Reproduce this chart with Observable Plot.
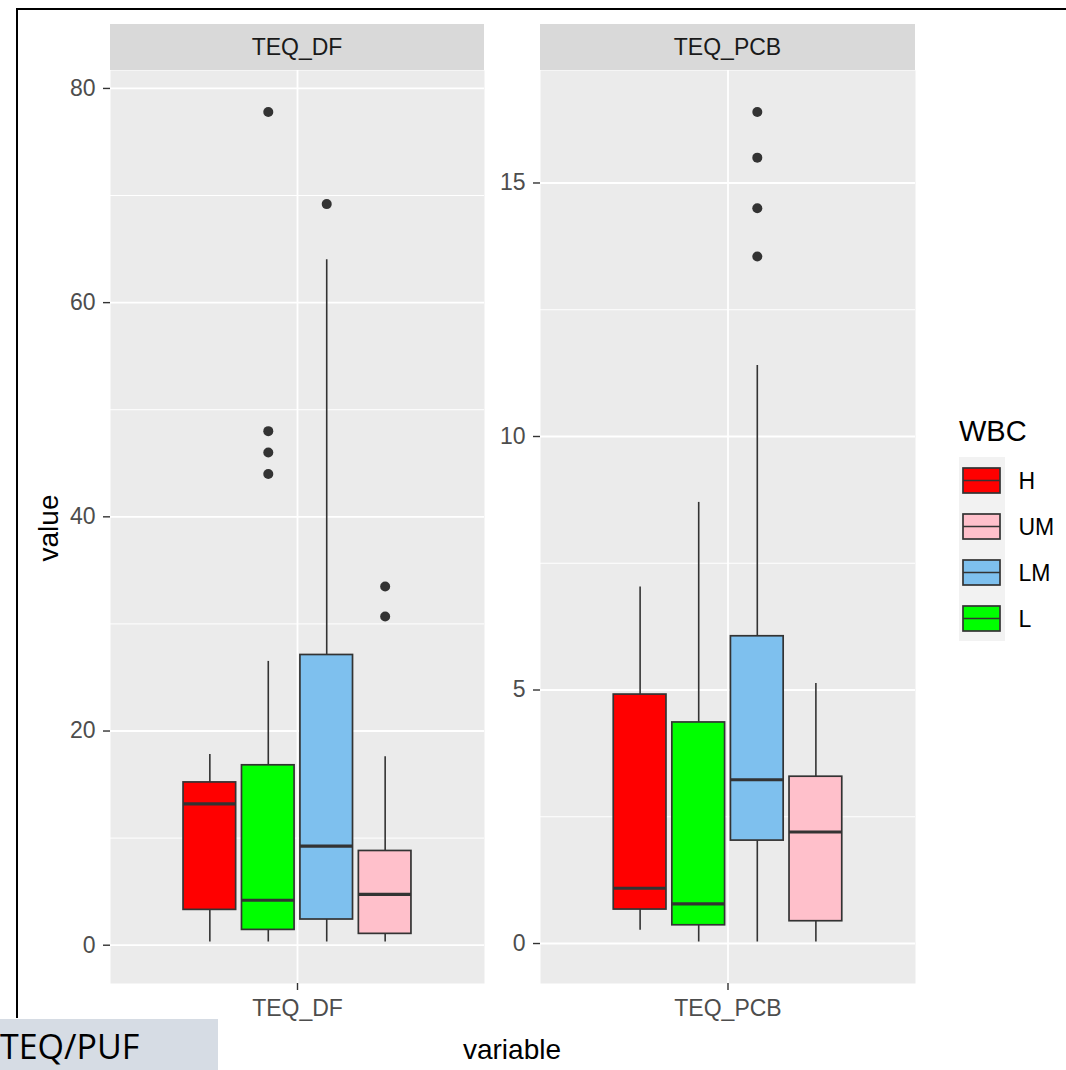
<!DOCTYPE html>
<html>
<head>
<meta charset="utf-8">
<script src="https://cdn.jsdelivr.net/npm/d3@7"></script>
<script src="https://cdn.jsdelivr.net/npm/@observablehq/plot@0.6"></script>
<style>
  html, body { margin: 0; padding: 0; background: #fff; }
  #root { position: relative; width: 1066px; height: 1070px; overflow: hidden; font-family: "Liberation Sans", Arial, sans-serif; }
  .abs { position: absolute; }
  .strip { background: #D9D9D9; color: #1A1A1A; font-size: 23px; text-align: center; line-height: 46px; }
</style>
</head>
<body>
<div id="root"></div>
<script>
// ---- data ----
const groups = ["H", "L", "LM", "UM"];            // plotting order inside each facet
const legendOrder = ["H", "UM", "LM", "L"];       // legend order
const groupColors = ["#FF0000", "#00FF00", "#7EC0EE", "#FFC0CB"]; // H, L, LM, UM

const variables = ["TEQ_DF", "TEQ_PCB"];

// TEQ_DF box statistics (per group in `groups` order)
const dfLow    = [0.3, 0.3, 0.3, 0.3];
const dfQ1     = [3.3, 1.43, 2.4, 1.06];
const dfMedian = [13.2, 4.2, 9.25, 4.75];
const dfQ3     = [15.2, 16.8, 27.1, 8.8];
const dfHigh   = [17.8, 26.5, 64.0, 17.6];
const dfOutliers = [[], [44.0, 46.0, 48.0, 77.8], [69.2], [30.7, 33.5]];

// TEQ_PCB box statistics
const pcbLow    = [0.26, 0.03, 0.03, 0.03];
const pcbQ1     = [0.67, 0.36, 2.03, 0.44];
const pcbMedian = [1.09, 0.78, 3.23, 2.2];
const pcbQ3     = [4.91, 4.36, 6.06, 3.29];
const pcbHigh   = [7.03, 8.7, 11.4, 5.13];
const pcbOutliers = [[], [], [13.55, 14.5, 15.5, 16.4], []];

const dfMajor = [0, 20, 40, 60, 80];
const dfMinor = [10, 30, 50, 70];
const pcbMajor = [0, 5, 10, 15];
const pcbMinor = [2.5, 7.5, 12.5];

// ---- layout ----
const root = document.getElementById("root");
const color = Plot.scale({color: {domain: groups, range: groupColors}});
const FONT = "'Liberation Sans', Arial, sans-serif";
const PANEL_TOP = 70, PANEL_BOTTOM = 983;
const dodge = 0.75 / groups.length;
const halfBox = 0.9 * dodge / 2;
const LINE = "#333333";

function buildRows(low, q1, med, q3, high) {
  return groups.map((g, i) => ({
    group: g, x: 1 + (i - (groups.length - 1) / 2) * dodge,
    low: low[i], q1: q1[i], median: med[i], q3: q3[i], high: high[i]
  }));
}

function makePanel({rows, outliers, major, minor, label, left, marginLeft, panelWidth}) {
  const pts = [];
  rows.forEach((r, i) => outliers[i].forEach(v => pts.push({x: r.x, y: v, group: r.group})));
  const allVals = rows.flatMap(r => [r.low, r.high]).concat(pts.map(p => p.y));
  const lo = d3.min(allVals), hi = d3.max(allVals);
  const pad = 0.05 * (hi - lo);
  const ph = PANEL_BOTTOM - PANEL_TOP;
  const chart = Plot.plot({
    width: marginLeft + panelWidth,
    height: ph + 60,
    marginLeft, marginRight: 0, marginTop: 0, marginBottom: 60,
    style: {fontFamily: FONT, fontSize: "23px", background: "transparent", overflow: "visible"},
    x: {domain: [0.4, 1.6], axis: null},
    y: {domain: [lo - pad, hi + pad], axis: null},
    marks: [
      Plot.frame({fill: "#EBEBEB", stroke: null}),
      Plot.ruleY(minor, {stroke: "#FFFFFF", strokeWidth: 1}),
      Plot.ruleY(major, {stroke: "#FFFFFF", strokeWidth: 1.8}),
      Plot.ruleX([1], {stroke: "#FFFFFF", strokeWidth: 1.8}),
      Plot.ruleX(rows, {x: "x", y1: "low", y2: "q1", stroke: LINE, strokeWidth: 1.6}),
      Plot.ruleX(rows, {x: "x", y1: "q3", y2: "high", stroke: LINE, strokeWidth: 1.6}),
      Plot.rect(rows, {x1: d => d.x - halfBox, x2: d => d.x + halfBox, y1: "q1", y2: "q3",
        fill: d => color.apply(d.group), stroke: LINE, strokeWidth: 1.7}),
      Plot.ruleY(rows, {y: "median", x1: d => d.x - halfBox, x2: d => d.x + halfBox, stroke: LINE, strokeWidth: 3.2}),
      Plot.dot(pts, {x: "x", y: "y", r: 5, fill: LINE, stroke: null}),
      Plot.axisY({ticks: major, tickSize: 7, tickPadding: 8, stroke: LINE, strokeWidth: 1.4,
        fill: "#4D4D4D", fontSize: 23, label: null, tickFormat: d => String(d)}),
      Plot.axisX({ticks: [1], tickSize: 7, tickPadding: 9, stroke: LINE, strokeWidth: 1.4,
        fill: "#4D4D4D", fontSize: 23, label: null, tickFormat: () => label})
    ]
  });
  chart.style.position = "absolute";
  chart.style.left = left + "px";
  chart.style.top = PANEL_TOP + "px";
  root.appendChild(chart);

  const strip = document.createElement("div");
  strip.className = "abs strip";
  Object.assign(strip.style, {left: (left + marginLeft) + "px", top: "24px", width: panelWidth + "px", height: "46px"});
  strip.textContent = label;
  root.appendChild(strip);
}

makePanel({rows: buildRows(dfLow, dfQ1, dfMedian, dfQ3, dfHigh), outliers: dfOutliers,
  major: dfMajor, minor: dfMinor, label: variables[0], left: 0, marginLeft: 110, panelWidth: 374});
makePanel({rows: buildRows(pcbLow, pcbQ1, pcbMedian, pcbQ3, pcbHigh), outliers: pcbOutliers,
  major: pcbMajor, minor: pcbMinor, label: variables[1], left: 480, marginLeft: 60, panelWidth: 375});

// ---- axis titles ----
function addText(txt, css) {
  const d = document.createElement("div");
  d.className = "abs";
  d.textContent = txt;
  Object.assign(d.style, css);
  root.appendChild(d);
  return d;
}
addText("variable", {left: "412px", width: "200px", top: "1030px", textAlign: "center", fontSize: "28px", color: "#000", lineHeight: "40px"});
addText("value", {left: "-51px", width: "200px", top: "508px", textAlign: "center", fontSize: "28px", color: "#000",
  lineHeight: "40px", transform: "rotate(-90deg)"});

// ---- legend ----
addText("WBC", {left: "959px", top: "414px", fontSize: "29px", color: "#000", lineHeight: "34px"});
const legend = Plot.plot({
  width: 107, height: 184, margin: 0,
  style: {fontFamily: FONT, fontSize: "23px", background: "transparent", overflow: "visible"},
  x: {domain: [0, 107], range: [0, 107], axis: null},
  y: {domain: legendOrder, padding: 0, axis: null},
  marks: [
    Plot.barX(legendOrder, {x1: 0, x2: 46, y: d => d, fill: "#F2F2F2"}),
    Plot.ruleX(legendOrder, {x: 22.5, y: d => d, stroke: LINE, strokeWidth: 1.6, insetTop: 5, insetBottom: 3}),
    Plot.barX(legendOrder, {x1: 4, x2: 41, y: d => d, fill: d => color.apply(d), stroke: LINE, strokeWidth: 1.7,
      insetTop: 11, insetBottom: 10}),
    Plot.ruleY(legendOrder, {y: d => d, x1: 4, x2: 41, stroke: LINE, strokeWidth: 1.7}),
    Plot.text(legendOrder, {x: 59, y: d => d, text: d => d, textAnchor: "start", fill: "#000", fontSize: 23, dy: 1})
  ]
});
legend.style.position = "absolute";
legend.style.left = "959px";
legend.style.top = "457px";
root.appendChild(legend);

// ---- surrounding frame and slide label ----
const border = document.createElement("div");
border.className = "abs";
Object.assign(border.style, {left: "16px", top: "8px", width: "1060px", height: "1010px",
  borderTop: "2px solid #000", borderLeft: "2px solid #000", boxSizing: "border-box"});
root.appendChild(border);

const tag = document.createElement("div");
tag.className = "abs";
Object.assign(tag.style, {left: "0px", top: "1019px", width: "218px", height: "60px", background: "#D6DCE4"});
root.appendChild(tag);
addText("TEQ/PUF", {left: "0px", top: "1024px", fontFamily: "'Open Sans', sans-serif", fontSize: "34px",
  color: "#000", lineHeight: "44px", whiteSpace: "nowrap"});
</script>
</body>
</html>
